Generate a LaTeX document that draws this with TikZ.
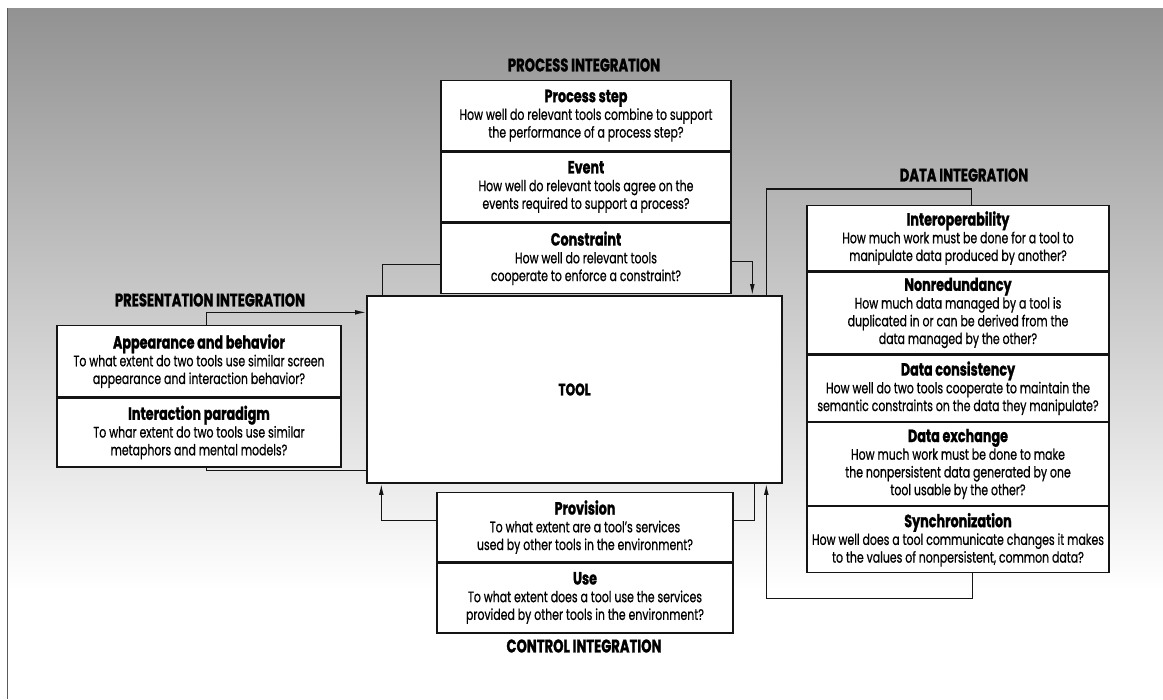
\documentclass[tikz,border=0pt]{standalone}
\usepackage{fontspec}
\setmainfont{Poppins}[FakeStretch=0.72,
  UprightFeatures={FakeBold=0.7}, BoldFeatures={FakeBold=1.2}]
\usetikzlibrary{positioning,calc,arrows.meta}

\definecolor{panelTop}{RGB}{146,146,146}
\definecolor{panelMid}{RGB}{192,192,192}
\definecolor{panelEdge}{RGB}{90,90,90}
\definecolor{boxLine}{RGB}{20,20,20}

\newcommand{\rowtitle}[1]{{\fontsize{12.6}{14}\selectfont\bfseries #1}}

\begin{document}
\begin{tikzpicture}[x=.025cm,y=-.025cm,
      row/.style={draw=boxLine, fill=white, line width=.9pt, align=center,
        inner sep=0pt, font=\fontsize{10.8}{12.6}\selectfont},
      heading/.style={font=\fontsize{13}{14}\selectfont\bfseries, text=black},
      toolbox/.style={draw=boxLine, fill=white, line width=.9pt,
        font=\fontsize{12}{14}\selectfont\bfseries},
      link/.style={draw=boxLine, line width=.9pt},
      arrowed/.style={-{Latex[length=8pt,width=3.4pt]}}]
      \useasboundingbox (0,0) rectangle (1163,699);
      \fill[white] (0,0) rectangle (1163,699);
      \shade[top color=panelTop, middle color=panelMid, bottom color=white]
        (7,8) rectangle (1163,590);
      \draw[panelEdge, line width=.6pt] (7,8) -- (7,699);

      % process integration
      \node[heading] (procHead) at (584,65) {PROCESS INTEGRATION};
      \node[row, minimum width=7.25cm, minimum height=1.75cm, anchor=north]
        (step) at (586,80)
        {\rowtitle{Process step}\\How well do relevant tools combine to support\\
         the performance of a process step?};
      \node[row, minimum width=7.25cm, minimum height=1.75cm, below=0pt of step]
        (event) {\rowtitle{Event}\\How well do relevant tools agree on the\\
         events required to support a process?};
      \node[row, minimum width=7.25cm, minimum height=1.75cm, below=0pt of event]
        (constraint) {\rowtitle{Constraint}\\How well do relevant tools\\
         cooperate to enforce a constraint?};

      % tool
      \node[toolbox, minimum width=10.375cm, minimum height=4.675cm]
        (tool) at (574.5,389.5) {TOOL};

      % data integration
      \node[heading] (dataHead) at (964,175) {DATA INTEGRATION};
      \node[row, minimum width=7.55cm, minimum height=1.625cm, anchor=north]
        (interop) at (958,205)
        {\rowtitle{Interoperability}\\How much work must be done for a tool to\\
         manipulate data produced by another?};
      \node[row, minimum width=7.55cm, minimum height=2.05cm, below=0pt of interop]
        (nonred) {\rowtitle{Nonredundancy}\\How much data managed by a tool is\\
         duplicated in or can be derived from the\\data managed by the other?};
      \node[row, minimum width=7.55cm, minimum height=1.65cm, below=0pt of nonred]
        (consist) {\rowtitle{Data consistency}\\How well do two tools cooperate to maintain the\\
         semantic constraints on the data they manipulate?};
      \node[row, minimum width=7.55cm, minimum height=2.075cm, below=0pt of consist]
        (exchange) {\rowtitle{Data exchange}\\How much work must be done to make\\
         the nonpersistent data generated by one\\tool usable by the other?};
      \node[row, minimum width=7.55cm, minimum height=1.65cm, below=0pt of exchange]
        (sync) {\rowtitle{Synchronization}\\How well does a tool communicate changes it makes\\
         to the values of nonpersistent, common data?};

      % presentation integration
      \node[heading] (presHead) at (210,300) {PRESENTATION INTEGRATION};
      \node[row, minimum width=7.1cm, minimum height=1.775cm, anchor=north]
        (appearance) at (199,325)
        {\rowtitle{Appearance and behavior}\\To what extent do two tools use similar screen\\
         appearance and interaction behavior?};
      \node[row, minimum width=7.1cm, minimum height=1.725cm, below=0pt of appearance]
        (paradigm) {\rowtitle{Interaction paradigm}\\To whar extent do two tools use similar\\
         metaphors and mental models?};

      % control integration
      \node[row, minimum width=7.4cm, minimum height=1.725cm, anchor=north]
        (provision) at (585,492)
        {\rowtitle{Provision}\\To what extent are a tool's services\\
         used by other tools in the environment?};
      \node[row, minimum width=7.4cm, minimum height=1.75cm, below=0pt of provision]
        (use) {\rowtitle{Use}\\To what extent does a tool use the services\\
         provided by other tools in the environment?};
      \node[heading] (ctrlHead) at (584,646) {CONTROL INTEGRATION};

      % connectors
      \draw[link] ($(constraint.west)+(0,6)$) -| ($(tool.north west)+(16,0)$);
      \draw[link, arrowed] ($(constraint.east)+(0,3)$) -| ($(tool.north west)+(386,0)$);
      \draw[link] ($(tool.north west)+(400,0)$) |- ($(interop.north west)+(165,-16)$)
        -- ($(interop.north west)+(165,0)$);
      \draw[link, arrowed] ($(sync.south west)+(166,0)$) -- ++(0,25)
        -| ($(tool.south west)+(400,0)$);
      \draw[link, arrowed] ($(provision.west)+(0,-7)$) -| ($(tool.south west)+(15,0)$);
      \draw[link] ($(provision.east)+(0,-7)$) -| ($(tool.south west)+(388,0)$);
      \draw[link, arrowed] ($(appearance.north west)+(150,0)$) |- ($(tool.north west)+(0,17)$);
      \draw[link] ($(paradigm.south west)+(150,0)$) |- ($(tool.south west)+(0,-13)$);
    \end{tikzpicture}
\end{document}
